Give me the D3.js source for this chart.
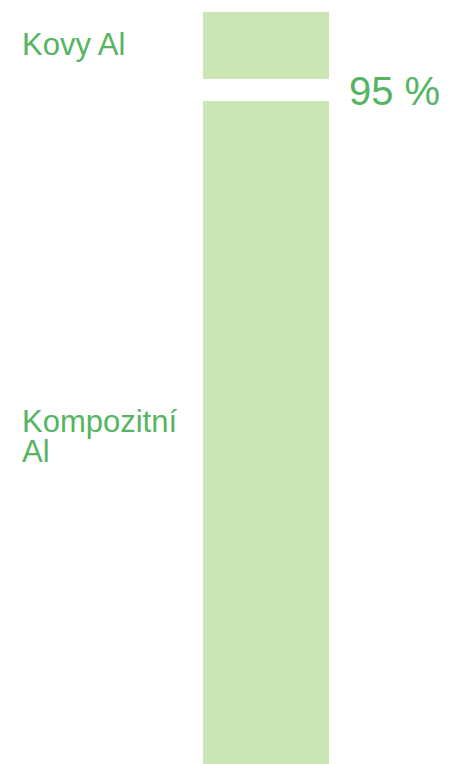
<!DOCTYPE html>
<html>
<head>
<meta charset="utf-8">
<script src="https://cdn.jsdelivr.net/npm/d3@7"></script>
<style>
  body { margin: 0; background: #fff; }
  svg { display: block; }
</style>
</head>
<body>
<div id="chart"></div>
<script>
// data
let categories = ["Kovy Al", "Kompozitní Al"]
let labelLines = [["Kovy Al"], ["Kompozitní", "Al"]]
let values = [5, 95]
let valueLabels = ["", "95 %"]

var width = 449,
    height = 764

var barColor = "#cbe6b4",
    textColor = "#55b562"

var svg = d3.select("#chart")
    .append("svg")
    .attr("width", width)
    .attr("height", height)

// 5 units -> 67px, the rest runs off the bottom of the page
var y = d3.scaleLinear()
    .domain([0, 5])
    .range([0, 67])

var x = d3.scaleBand()
    .domain(["bar"])
    .range([203, 329])

var gap = 22, top0 = 12

// stack the segments top-down with a gap in between
let segs = []
let cur = top0
values.forEach((v, i) => {
    segs.push({ name: categories[i], value: v, y0: cur, h: y(v), lines: labelLines[i], label: valueLabels[i] })
    cur += y(v) + gap
})

svg.selectAll("rect.seg")
    .data(segs)
    .enter()
    .append("rect")
    .attr("class", "seg")
    .attr("x", x("bar"))
    .attr("y", (d) => d.y0)
    .attr("width", x.bandwidth())
    .attr("height", (d) => d.h)
    .style("fill", barColor)

// category labels, centred on the visible part of each segment
var lh = 30
svg.selectAll("text.cat")
    .data(segs)
    .enter()
    .append("text")
    .attr("class", "cat")
    .attr("x", 22)
    .attr("fill", textColor)
    .style("font-family", "'Liberation Sans', Arial, sans-serif")
    .style("font-size", "31px")
    .each(function (d) {
        let vis = (Math.min(d.y0 + d.h, height) + d.y0) / 2
        let first = vis - (d.lines.length - 1) * lh / 2 + 9
        if (d.lines.length > 1) first += 5
        d3.select(this).selectAll("tspan")
            .data(d.lines)
            .enter()
            .append("tspan")
            .attr("x", 22)
            .attr("y", (t, j) => first + j * lh)
            .text((t) => t)
    })

// percentage label next to the top of the big segment
svg.selectAll("text.val")
    .data(segs.filter((d) => d.label))
    .enter()
    .append("text")
    .attr("class", "val")
    .attr("x", x("bar") + x.bandwidth() + 20)
    .attr("y", (d) => d.y0 + 4)
    .attr("fill", textColor)
    .style("font-family", "'Liberation Sans', Arial, sans-serif")
    .style("font-size", "40px")
    .text((d) => d.label)
</script>
</body>
</html>
